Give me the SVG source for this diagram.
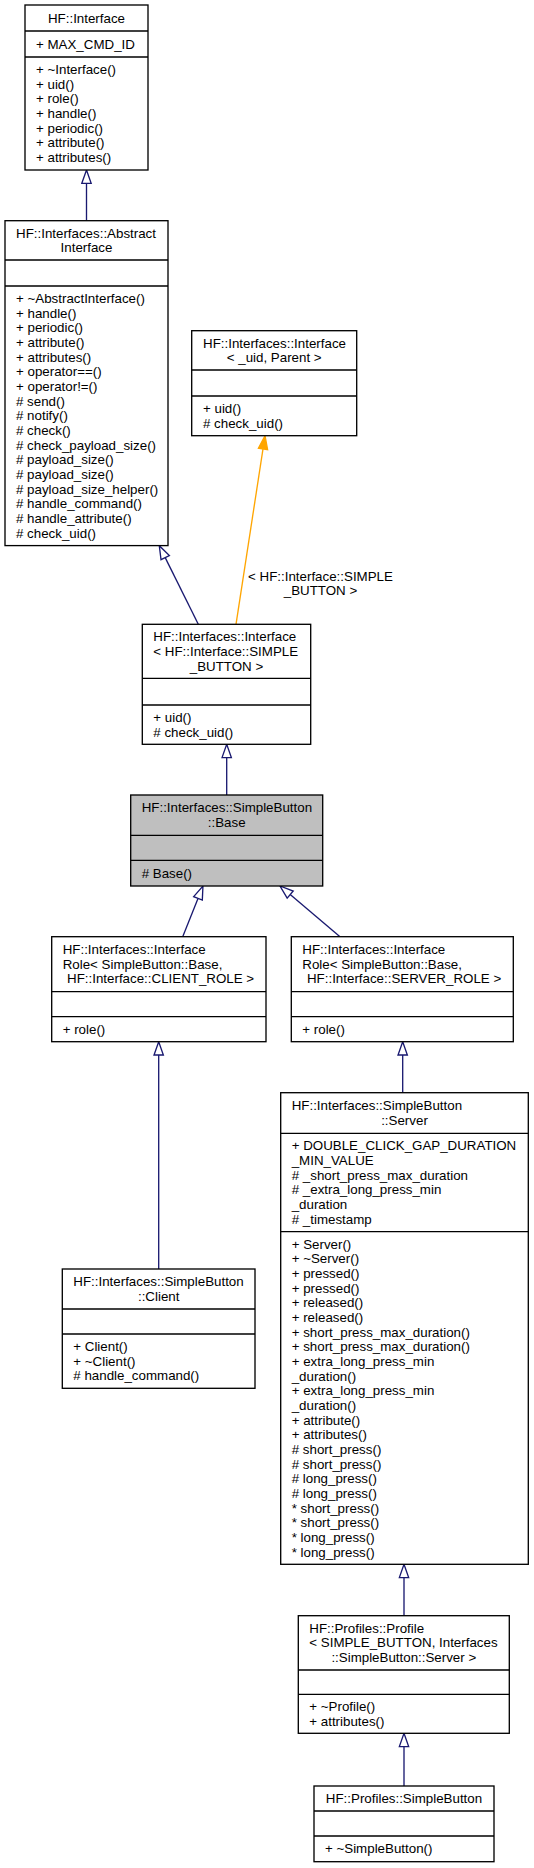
<svg xmlns="http://www.w3.org/2000/svg" width="534" height="1868" viewBox="0 0 534 1868">
<style>
text{font-family:"Liberation Sans",Arial,Helvetica,sans-serif;font-size:13.33px;fill:#000}
.c{text-anchor:middle}
.box{fill:#fff;stroke:#000;stroke-width:1.33}
.cur{fill:#bfbfbf}
.sep{stroke:#000;stroke-width:1.33}
.e{fill:none;stroke:#191970;stroke-width:1.33}
.o{fill:none;stroke:#ffa500;stroke-width:1.33}
</style>
<defs>
<marker id="inh" markerUnits="userSpaceOnUse" markerWidth="16" markerHeight="12" refX="0" refY="4.67" orient="auto" overflow="visible">
<path d="M0,0 L13.33,4.67 L0,9.33 Z" fill="#fff" stroke="#191970" stroke-width="1.33"/>
</marker>
<marker id="tpl" markerUnits="userSpaceOnUse" markerWidth="16" markerHeight="12" refX="0" refY="4.67" orient="auto" overflow="visible">
<path d="M0,0 L13.33,4.67 L0,9.33 Z" fill="#ffa500" stroke="#ffa500" stroke-width="1.33"/>
</marker>
</defs>
<rect width="534" height="1868" fill="#fff"/>

<g id="connectors">
<path class="e" d="M86.5,220.7 L86.5,183.3" marker-end="url(#inh)"/>
<path class="e" d="M198.3,624.3 L165.2,557.6" marker-end="url(#inh)"/>
<path class="o" d="M236,624.3 L263,448.9" marker-end="url(#tpl)"/>
<text class="c" x="320.5" y="580.5">&lt; HF::Interface::SIMPLE</text>
<text class="c" x="320.5" y="595.2">_BUTTON &gt;</text>
<path class="e" d="M226.7,795 L226.7,757.6" marker-end="url(#inh)"/>
<path class="e" d="M182.7,936.7 L198.0,898.4" marker-end="url(#inh)"/>
<path class="e" d="M340,936.7 L290.2,894.6" marker-end="url(#inh)"/>
<path class="e" d="M158.7,1269 L158.7,1055" marker-end="url(#inh)"/>
<path class="e" d="M402.7,1092.7 L402.7,1055" marker-end="url(#inh)"/>
<path class="e" d="M404,1615.7 L404,1577.6" marker-end="url(#inh)"/>
<path class="e" d="M404,1786 L404,1746.6" marker-end="url(#inh)"/>
</g>

<g id="node-interface">
<rect class="box" x="25" y="5" width="123" height="165"/>
<line class="sep" x1="25" y1="31" x2="148" y2="31"/>
<line class="sep" x1="25" y1="57" x2="148" y2="57"/>
<text class="c" x="86.5" y="22.5">HF::Interface</text>
<text x="36" y="48.5">+ MAX_CMD_ID</text>
<text x="36" y="74">+ ~Interface()</text>
<text x="36" y="88.7">+ uid()</text>
<text x="36" y="103.3">+ role()</text>
<text x="36" y="118">+ handle()</text>
<text x="36" y="132.7">+ periodic()</text>
<text x="36" y="147.3">+ attribute()</text>
<text x="36" y="162">+ attributes()</text>
</g>

<g id="node-abstract-interface">
<rect class="box" x="5" y="220.7" width="163" height="324.9"/>
<line class="sep" x1="5" y1="260" x2="168" y2="260"/>
<line class="sep" x1="5" y1="286" x2="168" y2="286"/>
<text x="16" y="237.5">HF::Interfaces::Abstract</text>
<text class="c" x="86.5" y="252.2">Interface</text>
<text x="16" y="302.9">+ ~AbstractInterface()</text>
<text x="16" y="317.6">+ handle()</text>
<text x="16" y="332.2">+ periodic()</text>
<text x="16" y="346.9">+ attribute()</text>
<text x="16" y="361.6">+ attributes()</text>
<text x="16" y="376.2">+ operator==()</text>
<text x="16" y="390.9">+ operator!=()</text>
<text x="16" y="405.6"># send()</text>
<text x="16" y="420.3"># notify()</text>
<text x="16" y="434.9"># check()</text>
<text x="16" y="449.6"># check_payload_size()</text>
<text x="16" y="464.3"># payload_size()</text>
<text x="16" y="478.9"># payload_size()</text>
<text x="16" y="493.6"># payload_size_helper()</text>
<text x="16" y="508.3"># handle_command()</text>
<text x="16" y="522.9"># handle_attribute()</text>
<text x="16" y="537.6"># check_uid()</text>
</g>

<g id="node-interface-template">
<rect class="box" x="191.7" y="330.7" width="165" height="105"/>
<line class="sep" x1="191.7" y1="370" x2="356.7" y2="370"/>
<line class="sep" x1="191.7" y1="396" x2="356.7" y2="396"/>
<text x="203" y="347.5">HF::Interfaces::Interface</text>
<text class="c" x="274.2" y="362.2">&lt; _uid, Parent &gt;</text>
<text x="203" y="413">+ uid()</text>
<text x="203" y="427.7"># check_uid()</text>
</g>

<g id="node-interface-simple-button">
<rect class="box" x="142.3" y="624.3" width="168.4" height="120"/>
<line class="sep" x1="142.3" y1="678.3" x2="310.7" y2="678.3"/>
<line class="sep" x1="142.3" y1="705" x2="310.7" y2="705"/>
<text x="153.3" y="641.2">HF::Interfaces::Interface</text>
<text x="153.3" y="655.8">&lt; HF::Interface::SIMPLE</text>
<text class="c" x="226.5" y="670.5">_BUTTON &gt;</text>
<text x="153.3" y="721.8">+ uid()</text>
<text x="153.3" y="736.5"># check_uid()</text>
</g>

<g id="node-base">
<rect class="box cur" x="130.7" y="795" width="192" height="91"/>
<line class="sep" x1="130.7" y1="835.3" x2="322.7" y2="835.3"/>
<line class="sep" x1="130.7" y1="860.3" x2="322.7" y2="860.3"/>
<text x="141.7" y="812.3">HF::Interfaces::SimpleButton</text>
<text class="c" x="226.7" y="827">::Base</text>
<text x="141.7" y="877.7"># Base()</text>
</g>

<g id="node-client-role">
<rect class="box" x="51.7" y="936.7" width="214.3" height="105"/>
<line class="sep" x1="51.7" y1="991.7" x2="266" y2="991.7"/>
<line class="sep" x1="51.7" y1="1016.7" x2="266" y2="1016.7"/>
<text x="62.7" y="954">HF::Interfaces::Interface</text>
<text x="62.7" y="968.7">Role&lt; SimpleButton::Base,</text>
<text class="c" x="160.6" y="983.4">HF::Interface::CLIENT_ROLE &gt;</text>
<text x="62.7" y="1033.7">+ role()</text>
</g>

<g id="node-server-role">
<rect class="box" x="291.3" y="936.7" width="222" height="105"/>
<line class="sep" x1="291.3" y1="991.7" x2="513.3" y2="991.7"/>
<line class="sep" x1="291.3" y1="1016.7" x2="513.3" y2="1016.7"/>
<text x="302.3" y="954">HF::Interfaces::Interface</text>
<text x="302.3" y="968.7">Role&lt; SimpleButton::Base,</text>
<text class="c" x="404.1" y="983.4">HF::Interface::SERVER_ROLE &gt;</text>
<text x="302.3" y="1033.7">+ role()</text>
</g>

<g id="node-client">
<rect class="box" x="62.3" y="1269" width="192.7" height="119.3"/>
<line class="sep" x1="62.3" y1="1309" x2="255" y2="1309"/>
<line class="sep" x1="62.3" y1="1334" x2="255" y2="1334"/>
<text x="73.3" y="1286.2">HF::Interfaces::SimpleButton</text>
<text class="c" x="158.7" y="1300.8">::Client</text>
<text x="73.3" y="1351">+ Client()</text>
<text x="73.3" y="1365.7">+ ~Client()</text>
<text x="73.3" y="1380.3"># handle_command()</text>
</g>

<g id="node-server">
<rect class="box" x="280.7" y="1092.7" width="247.6" height="471.6"/>
<line class="sep" x1="280.7" y1="1133.3" x2="528.3" y2="1133.3"/>
<line class="sep" x1="280.7" y1="1231.6" x2="528.3" y2="1231.6"/>
<text x="291.7" y="1110.2">HF::Interfaces::SimpleButton</text>
<text class="c" x="404.5" y="1124.8">::Server</text>
<text x="291.7" y="1150.3">+ DOUBLE_CLICK_GAP_DURATION</text>
<text x="291.7" y="1165">_MIN_VALUE</text>
<text x="291.7" y="1179.6"># _short_press_max_duration</text>
<text x="291.7" y="1194.3"># _extra_long_press_min</text>
<text x="291.7" y="1209">_duration</text>
<text x="291.7" y="1223.6"># _timestamp</text>
<text x="291.7" y="1248.5">+ Server()</text>
<text x="291.7" y="1263.2">+ ~Server()</text>
<text x="291.7" y="1277.8">+ pressed()</text>
<text x="291.7" y="1292.5">+ pressed()</text>
<text x="291.7" y="1307.2">+ released()</text>
<text x="291.7" y="1321.9">+ released()</text>
<text x="291.7" y="1336.5">+ short_press_max_duration()</text>
<text x="291.7" y="1351.2">+ short_press_max_duration()</text>
<text x="291.7" y="1365.9">+ extra_long_press_min</text>
<text x="291.7" y="1380.5">_duration()</text>
<text x="291.7" y="1395.2">+ extra_long_press_min</text>
<text x="291.7" y="1409.9">_duration()</text>
<text x="291.7" y="1424.5">+ attribute()</text>
<text x="291.7" y="1439.2">+ attributes()</text>
<text x="291.7" y="1453.9"># short_press()</text>
<text x="291.7" y="1468.6"># short_press()</text>
<text x="291.7" y="1483.2"># long_press()</text>
<text x="291.7" y="1497.9"># long_press()</text>
<text x="291.7" y="1512.6">* short_press()</text>
<text x="291.7" y="1527.2">* short_press()</text>
<text x="291.7" y="1541.9">* long_press()</text>
<text x="291.7" y="1556.6">* long_press()</text>
</g>

<g id="node-profile">
<rect class="box" x="298.3" y="1615.7" width="211" height="117.6"/>
<line class="sep" x1="298.3" y1="1670" x2="509.3" y2="1670"/>
<line class="sep" x1="298.3" y1="1694.3" x2="509.3" y2="1694.3"/>
<text x="309.3" y="1632.7">HF::Profiles::Profile</text>
<text x="309.3" y="1647.4">&lt; SIMPLE_BUTTON, Interfaces</text>
<text class="c" x="403.8" y="1662.1">::SimpleButton::Server &gt;</text>
<text x="309.3" y="1711">+ ~Profile()</text>
<text x="309.3" y="1725.6">+ attributes()</text>
</g>

<g id="node-simple-button">
<rect class="box" x="314" y="1786" width="180" height="75.7"/>
<line class="sep" x1="314" y1="1811" x2="494" y2="1811"/>
<line class="sep" x1="314" y1="1836" x2="494" y2="1836"/>
<text class="c" x="404" y="1803">HF::Profiles::SimpleButton</text>
<text x="325" y="1853.4">+ ~SimpleButton()</text>
</g>
</svg>
